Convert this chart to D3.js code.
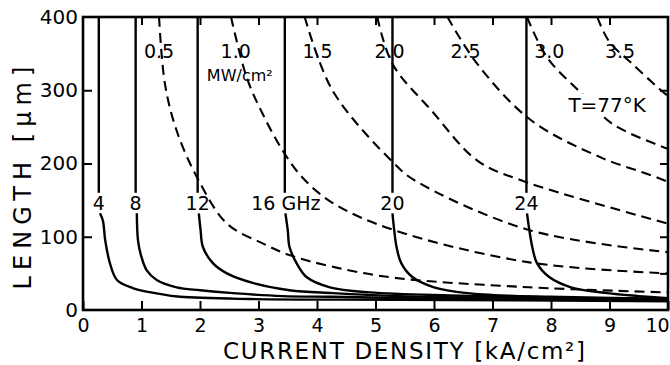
<!DOCTYPE html>
<html>
<head>
<meta charset="utf-8">
<script src="https://cdn.jsdelivr.net/npm/d3@7"></script>
<style>
  body { margin: 0; background: #fff; }
  svg { display: block; font-family: "DejaVu Sans", sans-serif; }
</style>
</head>
<body>
<div id="chart"></div>
<script>
// axis ticks
const xTicks = [0, 1, 2, 3, 4, 5, 6, 7, 8, 9, 10];
const yTicks = [0, 100, 200, 300, 400];
const yTicksRight = [50, 100, 200, 300];

// frequency curves (solid): vertical asymptote J0 and lower tail [J, L]
const freqLabels = ["4", "8", "12", "16 GHz", "20", "24"];
const freqJ0 = [0.27, 0.9, 1.96, 3.45, 5.29, 7.58];
const freqTails = [
  [[0.29, 132], [0.34, 122], [0.38, 95], [0.46, 64], [0.58, 41], [0.85, 30], [1.31, 22], [1.66, 18], [2.85, 15], [5.4, 14], [10, 12]],
  [[0.92, 132], [0.94, 95], [0.99, 75], [1.09, 54], [1.26, 41], [1.6, 31], [2.0, 27], [2.56, 23], [3.41, 19], [4.27, 18], [6.26, 15], [10, 14]],
  [[1.98, 132], [2.01, 109], [2.05, 86], [2.22, 64], [2.46, 50], [2.9, 37], [3.53, 27], [4.27, 23], [5.41, 19], [7.97, 16], [10, 15]],
  [[3.46, 132], [3.5, 109], [3.53, 86], [3.65, 64], [3.82, 45], [4.22, 31], [4.9, 24], [6.26, 20], [7.97, 18], [10, 15]],
  [[5.29, 132], [5.32, 109], [5.36, 86], [5.44, 64], [5.63, 45], [6.0, 31], [6.57, 23], [7.46, 19], [8.82, 16], [10, 15]],
  [[7.59, 132], [7.63, 109], [7.68, 86], [7.76, 64], [7.97, 45], [8.34, 31], [8.96, 23], [9.5, 19], [10, 16]]
];

// power density curves (dashed), [J, L]
const powerLabels = ["0.5", "1.0", "1.5", "2.0", "2.5", "3.0", "3.5"];
const powerLabelJ = [1.3, 2.61, 4.01, 5.24, 6.54, 7.97, 9.18];
const powerCurves = [
  [[1.3, 400], [1.4, 309], [1.6, 245], [1.95, 181], [2.46, 118], [3.07, 91], [3.53, 75], [4.27, 59], [5.32, 44], [7.63, 31], [10, 24]],
  [[2.53, 400], [2.8, 317], [3.07, 268], [3.41, 218], [3.75, 181], [4.27, 146], [5.32, 109], [7.63, 65], [10, 50]],
  [[3.79, 400], [4.27, 299], [5.32, 200], [5.67, 177], [7.63, 109], [10, 79]],
  [[5.03, 400], [5.29, 336], [5.96, 272], [6.74, 204], [7.49, 177], [10, 118]],
  [[6.23, 400], [6.74, 336], [7.66, 259], [8.86, 208], [9.71, 184], [10, 175]],
  [[7.59, 400], [7.94, 344], [8.57, 292], [9.05, 254], [10, 220]],
  [[8.79, 400], [8.99, 367], [9.39, 336], [9.85, 302], [10, 292]]
];

const width = 670;
const height = 365;
const x = d3.scaleLinear().domain([0, 10]).range([83, 668]);
const y = d3.scaleLinear().domain([0, 400]).range([310, 17]);

const svg = d3.select("#chart").append("svg")
  .attr("width", width)
  .attr("height", height)
  .attr("viewBox", [0, 0, width, height]);

svg.append("rect").attr("width", width).attr("height", height).attr("fill", "#fff");

svg.append("clipPath").attr("id", "plot")
  .append("rect")
  .attr("x", x(0)).attr("y", y(400))
  .attr("width", x(10) - x(0)).attr("height", y(0) - y(400));

// axes (ticks point inward)
const styleAxis = (g) => {
  g.select(".domain").remove();
  g.selectAll(".tick line").attr("stroke", "#000").attr("stroke-width", 2);
  g.selectAll(".tick text").attr("fill", "#000");
};

svg.append("g")
  .attr("transform", `translate(0,${y(0)})`)
  .call(d3.axisBottom(x).tickValues(xTicks).tickSize(-9).tickPadding(9).tickFormat(d3.format("d")))
  .attr("font-size", 19).attr("font-family", null)
  .call(styleAxis)
  .call((g) => g.selectAll(".tick text").filter((d) => d === 10).attr("dx", -11));

svg.append("g")
  .attr("transform", `translate(0,${y(400)})`)
  .call(d3.axisTop(x).tickValues(xTicks.slice(1, -1)).tickSize(-8).tickFormat(""))
  .call(styleAxis);

svg.append("g")
  .attr("transform", `translate(${x(0)},0)`)
  .call(d3.axisLeft(y).tickValues(yTicks).tickSize(-9).tickPadding(5).tickFormat(d3.format("d")))
  .attr("font-size", 20).attr("font-family", null)
  .call(styleAxis)
  .call((g) => g.selectAll(".tick line").filter((d) => d === 0 || d === 400).remove());

svg.append("g")
  .attr("transform", `translate(${x(10)},0)`)
  .call(d3.axisRight(y).tickValues(yTicksRight).tickSize(-8).tickFormat(""))
  .call(styleAxis);

// frame
svg.append("rect")
  .attr("x", x(0)).attr("y", y(400))
  .attr("width", x(10) - x(0)).attr("height", y(0) - y(400))
  .attr("fill", "none").attr("stroke", "#000").attr("stroke-width", 2.6);

const smooth = d3.line()
  .x((d) => x(d[0]))
  .y((d) => y(d[1]))
  .curve(d3.curveCatmullRom.alpha(0.5));

const plot = svg.append("g").attr("clip-path", "url(#plot)");

// solid frequency curves
const freqTop = 160;
plot.selectAll("path.freq-top")
  .data(freqJ0)
  .join("path")
  .attr("class", "freq-top")
  .attr("d", (d) => d3.line()([[x(d), y(400)], [x(d), y(freqTop)]]))
  .attr("fill", "none").attr("stroke", "#000").attr("stroke-width", 2.4);

plot.selectAll("path.freq-tail")
  .data(freqTails)
  .join("path")
  .attr("class", "freq-tail")
  .attr("d", smooth)
  .attr("fill", "none").attr("stroke", "#000").attr("stroke-width", 2.4);

svg.selectAll("text.freq")
  .data(freqLabels)
  .join("text")
  .attr("class", "freq")
  .attr("x", (d, i) => x(freqJ0[i]) + (i === 3 ? 1 : 0))
  .attr("y", y(146))
  .attr("dy", "0.36em")
  .attr("text-anchor", "middle")
  .attr("font-size", 19)
  .attr("fill", "#000")
  .text((d) => d);

// dashed power-density curves
plot.selectAll("path.power")
  .data(powerCurves)
  .join("path")
  .attr("class", "power")
  .attr("d", smooth)
  .attr("fill", "none").attr("stroke", "#000").attr("stroke-width", 2.1)
  .attr("stroke-dasharray", "10,6");

svg.selectAll("text.power")
  .data(powerLabels)
  .join("text")
  .attr("class", "power")
  .attr("x", (d, i) => x(powerLabelJ[i]))
  .attr("y", y(353))
  .attr("dy", "0.36em")
  .attr("text-anchor", "middle")
  .attr("font-size", 19)
  .attr("fill", "#000")
  .text((d) => d);

svg.append("text")
  .attr("x", x(2.68))
  .attr("y", y(313))
  .attr("text-anchor", "middle")
  .attr("font-size", 16)
  .attr("fill", "#000")
  .text("MW/cm²");

// temperature note
const tNote = svg.append("g").attr("transform", `translate(${x(8.96)},${y(280)})`);
tNote.append("rect").attr("x", -42).attr("y", -11).attr("width", 84).attr("height", 22).attr("fill", "#fff");
tNote.append("text")
  .attr("text-anchor", "middle").attr("dy", "0.36em")
  .attr("font-size", 20).attr("fill", "#000")
  .text("T=77°K");

// axis titles
svg.append("text")
  .attr("x", 404).attr("y", 359)
  .attr("text-anchor", "middle")
  .attr("font-size", 23)
  .attr("textLength", 362).attr("lengthAdjust", "spacing")
  .attr("fill", "#000")
  .text("CURRENT DENSITY [kA/cm²]");

svg.append("text")
  .attr("transform", "translate(31,178) rotate(-90)")
  .attr("text-anchor", "middle")
  .attr("font-size", 24)
  .attr("textLength", 223).attr("lengthAdjust", "spacing")
  .attr("fill", "#000")
  .text("LENGTH  [μm]");
</script>
</body>
</html>
